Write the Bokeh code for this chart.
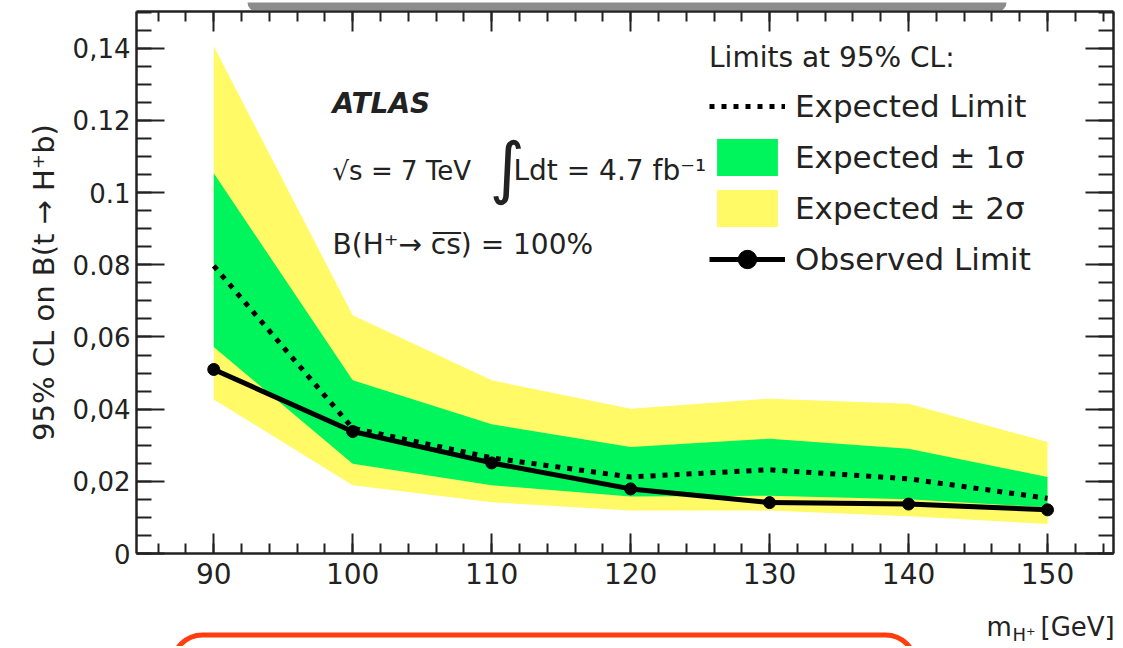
import numpy as np
from bokeh.plotting import figure
from bokeh.layouts import column
from bokeh.models import (Range1d, LinearAxis, FixedTicker, Label, Legend,
                          LegendItem, BoxAnnotation)
from bokeh.embed import file_html
from bokeh.resources import INLINE

# ---- data ----
mass = [90, 100, 110, 120, 130, 140, 150]
observed = [0.0510, 0.0338, 0.0251, 0.0179, 0.0141, 0.0137, 0.0121]
expected = [0.0797, 0.0347, 0.0265, 0.0212, 0.0232, 0.0207, 0.0153]
band1_lo = [0.0572, 0.0249, 0.0189, 0.0158, 0.0160, 0.0150, 0.0128]
band1_hi = [0.1054, 0.0480, 0.0358, 0.0295, 0.0318, 0.0290, 0.0212]
band2_lo = [0.0427, 0.0189, 0.0142, 0.0119, 0.0119, 0.0103, 0.0082]
band2_hi = [0.1406, 0.0660, 0.0480, 0.0401, 0.0429, 0.0415, 0.0309]

x_ticks = [90, 100, 110, 120, 130, 140, 150]
y_ticks = [0, 0.02, 0.04, 0.06, 0.08, 0.1, 0.12, 0.14]
y_tick_labels = ["0", "0,02", "0,04", "0,06", "0.08", "0.1", "0.12", "0,14"]

FONT = "DejaVu Sans"
AX = "#222222"
W = 1120
BL, BR = 136, 7   # frame borders (all stacked figures share the same frame edges)


def bare_fig(h):
    f = figure(width=W, height=h, output_backend="svg", toolbar_location=None,
               x_range=Range1d(0, 1), y_range=Range1d(0, 1),
               x_axis_type=None, y_axis_type=None,
               min_border_left=BL, min_border_right=BR, min_border_top=0,
               min_border_bottom=0)
    f.outline_line_color = None
    f.xgrid.visible = False
    f.ygrid.visible = False
    return f


def screen_box(**kw):
    return BoxAnnotation(left_units="screen", right_units="screen",
                         top_units="screen", bottom_units="screen", **kw)


# ---- strip above the plot (shadow of a slide box in the reference) ----
top_strip = bare_fig(10)
top_strip.add_layout(screen_box(left=111, right=870, top=40, bottom=1,
                                fill_color="#8c8c8c", fill_alpha=1,
                                line_color=None, border_radius=9))

# ---- main plot ----
p = figure(width=W, height=586, output_backend="svg", toolbar_location=None,
           x_range=Range1d(84.44, 154.75), y_range=Range1d(0, 0.1502),
           min_border_left=BL, min_border_right=BR, min_border_top=1,
           min_border_bottom=43, x_axis_type=None, y_axis_type=None)
p.outline_line_color = None

xt = FixedTicker(ticks=x_ticks, minor_ticks=list(np.arange(86, 155, 2)))
yt = FixedTicker(ticks=y_ticks, minor_ticks=list(np.round(np.arange(0, 0.1501, 0.005), 4)))


def style_axis(ax, tin, tmin, size=None, ticks=None):
    ax.axis_line_color = AX
    ax.axis_line_width = 2.5
    ax.major_tick_line_color = AX
    ax.minor_tick_line_color = AX
    ax.major_tick_line_width = 2
    ax.minor_tick_line_width = 2
    ax.major_tick_in = tin
    ax.major_tick_out = 0
    ax.minor_tick_in = tmin
    ax.minor_tick_out = 0
    if size:
        ax.major_label_text_font = FONT
        ax.major_label_text_font_size = size
        ax.major_label_text_color = AX
    else:
        ax.major_label_overrides = {t: "" for t in ticks}
        ax.major_label_text_font_size = "1px"
        ax.major_label_standoff = 0


bottom = LinearAxis(ticker=xt)
style_axis(bottom, 20, 10, "28px")
bottom.major_label_standoff = 9
p.add_layout(bottom, "below")

top = LinearAxis(ticker=xt)
style_axis(top, 20, 10, ticks=x_ticks)
p.add_layout(top, "above")

left = LinearAxis(ticker=yt)
style_axis(left, 28, 15, "26px")
left.major_label_standoff = 6
left.major_label_overrides = {t: s for t, s in zip(y_ticks, y_tick_labels)}
left.axis_label = "95% CL on B(t \u2192 H\u207Ab)"
left.axis_label_text_font = FONT
left.axis_label_text_font_style = "normal"
left.axis_label_text_font_size = "29px"
left.axis_label_text_color = AX
left.axis_label_standoff = 9
p.add_layout(left, "left")

right = LinearAxis(ticker=yt)
style_axis(right, 28, 15, ticks=y_ticks)
p.add_layout(right, "right")

# ---- bands and lines ----
yel = p.varea(x=mass, y1=band2_lo, y2=band2_hi, fill_color="#fffa66", fill_alpha=1)
grn = p.varea(x=mass, y1=band1_lo, y2=band1_hi, fill_color="#00f45c", fill_alpha=1)
exp_r = p.line(mass, expected, line_color="black", line_width=5, line_dash="5 7")
obs_l = p.line(mass, observed, line_color="black", line_width=5)
obs_s = p.scatter(mass, observed, size=12, color="black")

# ---- legend ----
legend = Legend(items=[
    LegendItem(label="Expected Limit", renderers=[exp_r]),
    LegendItem(label="Expected \u00B1 1\u03C3", renderers=[grn]),
    LegendItem(label="Expected \u00B1 2\u03C3", renderers=[yel]),
    LegendItem(label="Observed Limit", renderers=[obs_l, obs_s]),
], location=(573, 271), title="Limits at 95% CL:")
legend.title_text_font = FONT
legend.title_text_font_size = "28px"
legend.title_text_font_style = "normal"
legend.title_text_color = AX
legend.title_standoff = 9
legend.label_text_font = FONT
legend.label_text_font_size = "31px"
legend.label_text_color = AX
legend.label_standoff = 10
legend.glyph_width = 76
legend.glyph_height = 46
legend.label_height = 46
legend.spacing = 5
legend.padding = 0
legend.margin = 0
legend.border_line_alpha = 0
legend.background_fill_alpha = 0
p.add_layout(legend)


# ---- text annotations (screen units relative to the frame) ----
def lab(fig, text, x, y, size, style="normal"):
    fig.add_layout(Label(text=text, x=x, y=y, x_units="screen", y_units="screen",
                         text_font=FONT, text_font_size=size, text_font_style=style,
                         text_color=AX, text_baseline="alphabetic", text_align="left"))


lab(p, "ATLAS", 196, 450, "28px", "bold italic")
lab(p, "\u221As = 7 TeV", 196, 383, "26px")
lab(p, "\u222B", 353, 386, "68px")
lab(p, "Ldt = 4.7 fb\u207B\u00B9", 377, 383, "28px")
lab(p, "B(H\u207A\u2192 c\u0305s\u0305) = 100%", 196, 309, "28px")

# ---- strip below the plot: x-axis title and the red frame of the reference ----
q = bare_fig(50)
lab(q, "m", 850, 20, "26px")
lab(q, "H\u207A", 876, 12, "18px")
lab(q, "[GeV]", 904, 20, "26px")
q.add_layout(screen_box(left=36, right=779, top=11.5, bottom=-60,
                        fill_color=None, fill_alpha=0,
                        line_color="#ff3d0f", line_alpha=1, line_width=5,
                        border_radius=30))

layout = column(top_strip, p, q, spacing=0)
open("out.html", "w").write(file_html(layout, INLINE))
